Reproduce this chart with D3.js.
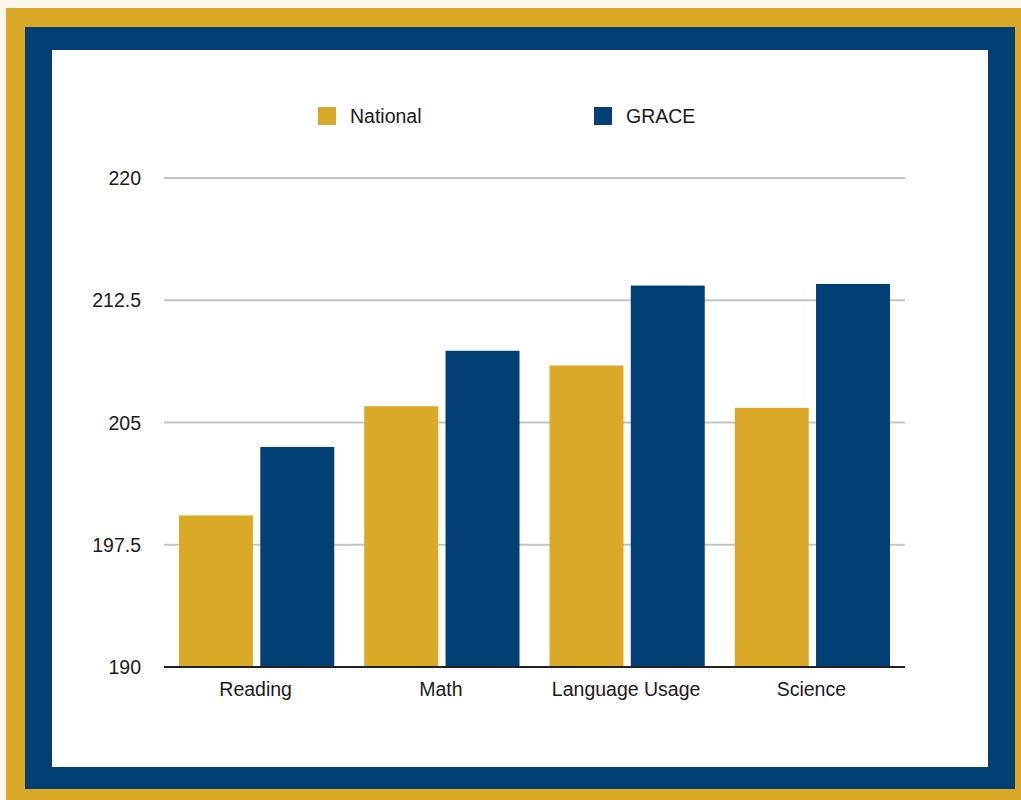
<!DOCTYPE html>
<html>
<head>
<meta charset="utf-8">
<script src="https://cdn.jsdelivr.net/npm/d3@7"></script>
<style>
  html, body { margin: 0; padding: 0; background: #faf6ec; }
  svg { display: block; }
  text { font-family: "Liberation Sans", Arial, Helvetica, sans-serif; fill: #1a1a1a; }
</style>
</head>
<body>
<script>
const categories = ["Reading", "Math", "Language Usage", "Science"];
const seriesNames = ["National", "GRACE"];
const nationalValues = [199.3, 206.0, 208.5, 205.9];
const graceValues = [203.5, 209.4, 213.4, 213.5];
const yTicks = [190, 197.5, 205, 212.5, 220];
const colors = ["#daa928", "#023f75"];

(function () {
const W = 1021, H = 800;
const FS = 19.5;
const svg = d3.select("body").append("svg").attr("width", W).attr("height", H);

// frame
svg.append("rect").attr("x", 0).attr("y", 0).attr("width", W).attr("height", H).attr("fill", "#faf6ec");
svg.append("rect").attr("x", 6).attr("y", 8).attr("width", W - 6).attr("height", H - 8).attr("fill", "#daa928");
svg.append("rect").attr("x", 25).attr("y", 27).attr("width", 990).attr("height", 762).attr("fill", "#023f75");
svg.append("rect").attr("x", 52).attr("y", 50).attr("width", 936).attr("height", 717).attr("fill", "#ffffff");

const pLeft = 164, pRight = 905, pTop = 178, pBottom = 667;
const y = d3.scaleLinear().domain([190, 220]).range([pBottom, pTop]);
const x0 = d3.scaleBand().domain(categories).range([pLeft, pRight]).paddingInner(0).paddingOuter(0);
const x1 = d3.scaleBand().domain(seriesNames).range([15, x0.bandwidth() - 15]).paddingInner(0.09);

// gridlines
svg.append("g").selectAll("line").data(yTicks.filter(t => t !== 190)).join("line")
  .attr("x1", pLeft).attr("x2", pRight)
  .attr("y1", d => y(d)).attr("y2", d => y(d))
  .attr("stroke", "#c4c4c4").attr("stroke-width", 2);

// y labels
svg.append("g").selectAll("text").data(yTicks).join("text")
  .attr("x", 141).attr("y", d => y(d) + 7)
  .attr("text-anchor", "end").attr("font-size", FS)
  .text(d => d);

// bars
const data = categories.map((c, i) => ({ cat: c, vals: [nationalValues[i], graceValues[i]] }));
const groups = svg.append("g").selectAll("g").data(data).join("g")
  .attr("transform", d => `translate(${x0(d.cat)},0)`);
groups.selectAll("rect").data(d => d.vals.map((v, j) => ({ s: seriesNames[j], v, j }))).join("rect")
  .attr("x", d => x1(d.s))
  .attr("width", x1.bandwidth())
  .attr("y", d => y(d.v))
  .attr("height", d => pBottom - y(d.v))
  .attr("fill", d => colors[d.j]);

// baseline axis
svg.append("line").attr("x1", pLeft).attr("x2", pRight).attr("y1", pBottom).attr("y2", pBottom)
  .attr("stroke", "#222").attr("stroke-width", 2);

// x labels
svg.append("g").selectAll("text").data(categories).join("text")
  .attr("x", d => x0(d) + x0.bandwidth() / 2 - 1)
  .attr("y", 696)
  .attr("text-anchor", "middle").attr("font-size", FS)
  .text(d => d);

// legend
const legendX = [318, 594];
const lg = svg.append("g").selectAll("g").data(seriesNames).join("g")
  .attr("transform", (d, i) => `translate(${legendX[i]},107)`);
lg.append("rect").attr("width", 18).attr("height", 18).attr("fill", (d, i) => colors[i]);
lg.append("text").attr("x", 32).attr("y", 16).attr("font-size", FS).text(d => d);
})();
</script>
</body>
</html>
